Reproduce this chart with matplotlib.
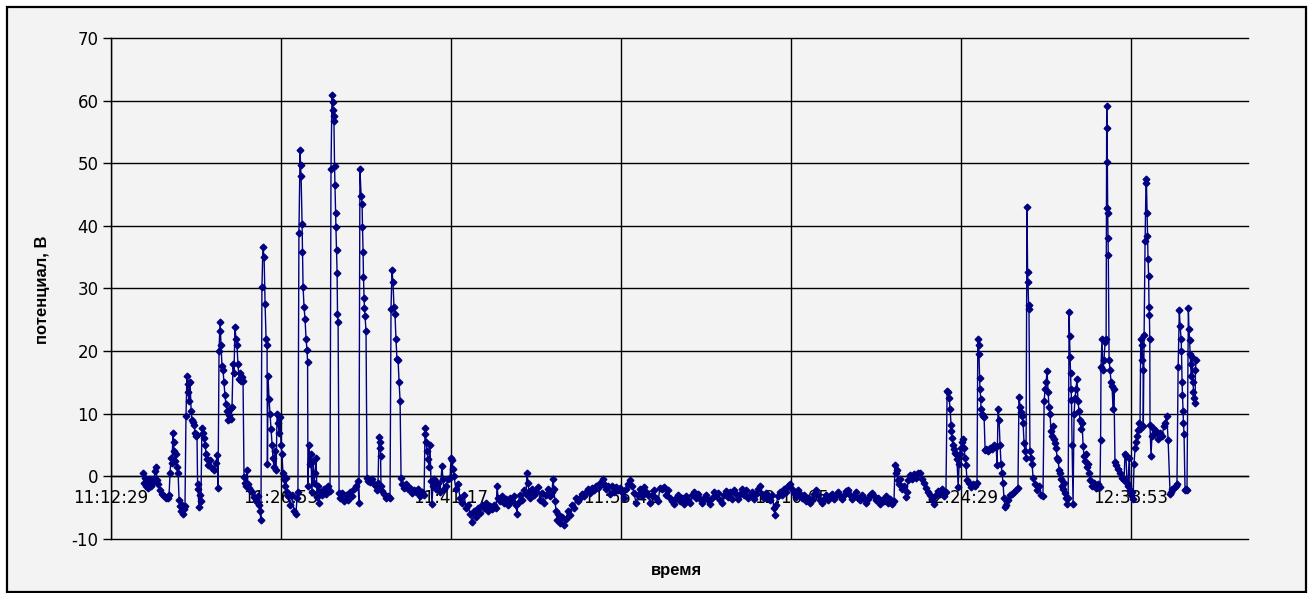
import matplotlib
matplotlib.use("Agg")
import matplotlib.pyplot as plt
from matplotlib.patches import Rectangle

plt.rcParams["axes.unicode_minus"] = False

# seconds after 11:12:29 and measured potential (V)
elapsed_s = [
    163, 168, 173, 178, 183, 188, 193, 198, 203, 208, 219, 224, 229, 234, 239, 249, 259, 269, 280, 290, 295,
    300, 305, 310, 315, 318, 320, 325, 330, 335, 341, 346, 351, 356, 361, 366, 371, 376,
    381, 386, 389, 391, 396, 402, 407, 412, 417, 422, 427, 432, 437, 440, 442, 447, 452, 457,
    462, 468, 473, 478, 483, 488, 493, 503, 513, 523, 534, 539, 544,
    549, 554, 556, 559, 564, 569, 574, 579, 584, 590, 595, 600, 605, 610, 615, 620, 625, 630, 635, 640, 645, 651, 656, 661, 666, 671,
    676, 681, 686, 691, 696, 701, 706, 717, 727, 737, 747, 752, 757, 762,
    767, 772, 778, 783, 788, 793, 795, 798, 803, 808, 813, 818, 823, 828, 833, 839, 844, 849, 854, 859, 864, 869, 874, 879, 884, 889, 894, 900, 910, 920, 930, 940, 945, 950,
    955, 961, 963, 966, 971, 973, 976, 981, 986, 991, 996, 999,
    1001, 1006, 1011, 1016, 1021, 1027, 1032, 1037, 1042, 1047, 1052, 1057, 1062, 1072, 1082, 1093, 1103, 1113,
    1118, 1123, 1126, 1128, 1131, 1133, 1136, 1138, 1141, 1143, 1146, 1149, 1151, 1154,
    1159, 1164, 1174, 1184, 1194, 1204, 1215, 1225, 1235, 1245, 1255, 1260,
    1265, 1271, 1276, 1278, 1281, 1283, 1286, 1288, 1291, 1296,
    1301, 1306, 1316, 1326, 1337, 1347, 1352, 1357, 1362, 1365, 1367, 1370, 1372, 1377, 1387, 1398, 1408, 1418,
    1423, 1428, 1433, 1438, 1443, 1448, 1453, 1459, 1464, 1469,
    1474, 1479, 1489, 1499, 1509, 1520, 1530, 1540, 1550, 1560, 1570, 1581, 1591,
    1596, 1598, 1601, 1606, 1611, 1616, 1621, 1626, 1631, 1636, 1642, 1652, 1662, 1672, 1682, 1687, 1692, 1702, 1713, 1723,
    1728, 1733, 1738, 1743, 1753, 1763, 1774, 1784, 1794, 1804, 1814, 1824, 1835, 1845, 1855, 1865, 1875, 1885, 1896, 1906, 1916, 1926, 1936, 1946, 1957,
    1962, 1967, 1977, 1987, 1997, 2007, 2018, 2028, 2038, 2048, 2058, 2063, 2068, 2079, 2089, 2099, 2109,
    2114, 2119, 2124, 2129, 2140, 2150, 2160, 2170, 2180, 2190, 2201, 2211, 2221, 2231, 2241, 2246, 2251, 2256, 2262, 2267, 2272,
    2282, 2292, 2302, 2312, 2322, 2333, 2343, 2353, 2363, 2373, 2383, 2394, 2404, 2414, 2424, 2434, 2444, 2455, 2465, 2475,
    2485, 2495, 2500, 2505, 2516, 2526, 2536, 2546, 2556, 2566, 2577, 2587, 2597, 2607, 2617, 2627, 2638, 2648, 2658, 2668,
    2678, 2688, 2699, 2709, 2719, 2729, 2739, 2749, 2760, 2770, 2780, 2790, 2800, 2810, 2821, 2831, 2841, 2851, 2861, 2871,
    2882, 2892, 2902, 2912, 2922, 2932, 2943, 2953, 2963, 2973, 2983, 2993,
    3003, 3014, 3024, 3034, 3044, 3054, 3064, 3075, 3085, 3095, 3105, 3115, 3125, 3136, 3146, 3156, 3166, 3176, 3186, 3197,
    3207, 3217, 3227, 3237, 3247, 3258, 3268, 3278, 3288, 3298, 3308, 3319, 3329, 3339, 3349, 3359, 3369, 3374, 3380, 3390,
    3400, 3410, 3420, 3430, 3441, 3451, 3461, 3471, 3481, 3491, 3502, 3512, 3522, 3532, 3542, 3552, 3563, 3573, 3583, 3593,
    3603, 3613, 3623, 3634, 3644, 3654, 3664, 3674, 3684, 3695, 3705, 3715, 3725, 3735, 3745, 3756, 3766, 3776, 3786, 3796,
    3806, 3817, 3827, 3837, 3847, 3857, 3867, 3878, 3888, 3898, 3908, 3918, 3928, 3939, 3949, 3959, 3969, 3979,
    3984, 3989, 3995, 4000, 4005, 4010, 4020, 4030, 4040, 4045, 4050, 4061, 4071, 4081, 4091,
    4101, 4111, 4122, 4132, 4142, 4152, 4162, 4172, 4182, 4193, 4203, 4213, 4223, 4233, 4243,
    4249, 4254, 4259, 4264, 4269, 4271, 4274, 4279, 4284, 4289, 4294, 4299, 4305, 4310, 4315,
    4320, 4325, 4330, 4335, 4340, 4345, 4350, 4360, 4371, 4381, 4391, 4401,
    4405, 4409, 4411, 4414, 4416, 4420, 4421, 4426, 4432, 4437, 4442, 4447, 4457, 4467, 4477, 4487, 4498,
    4503, 4508, 4513, 4518, 4523, 4528, 4533, 4538, 4543, 4548, 4559, 4569, 4579, 4589, 4599, 4609,
    4614, 4620, 4625, 4630, 4635, 4640, 4645, 4650, 4655, 4658, 4660, 4663, 4665, 4670, 4675, 4681, 4686, 4696, 4706, 4716, 4726, 4736,
    4742, 4747, 4752, 4757, 4762, 4767, 4772, 4777, 4782, 4787, 4792, 4797, 4803, 4808, 4813,
    4818, 4823, 4828, 4833, 4838, 4843, 4848, 4853, 4858, 4864,
    4869, 4871, 4874, 4876, 4879, 4881, 4884, 4889, 4894, 4899, 4904, 4909, 4914, 4919, 4925,
    4930, 4935, 4940, 4945, 4950, 4955, 4960, 4965, 4970, 4975, 4985, 4996, 5006, 5016, 5026,
    5029, 5031, 5036, 5041, 5046, 5052, 5057, 5060, 5062, 5063, 5064, 5065, 5067, 5068, 5072,
    5077, 5082, 5087, 5092, 5097, 5102, 5107, 5118, 5128, 5138, 5148, 5153, 5158, 5163, 5168,
    5174, 5179, 5184, 5189, 5194, 5199, 5204, 5209, 5214, 5219, 5224, 5229,
    5233, 5237, 5240, 5245, 5246, 5250, 5255, 5260, 5262, 5265, 5267, 5270, 5273, 5275, 5277,
    5279, 5280, 5285, 5290, 5295, 5301, 5311, 5321, 5331, 5341, 5351, 5356, 5365, 5372, 5382,
    5387, 5392, 5402, 5412, 5417,
    5423, 5429, 5433, 5438, 5440, 5443, 5445, 5448, 5450, 5453, 5458, 5463, 5468,
    5475, 5478, 5481, 5484, 5486, 5489, 5494, 5499, 5501, 5504, 5509, 5511, 5514,
]

potential = [
    0.5, -1.0, -0.3, -1.5, -1.0, -1.9, -1.2, -0.5, -1.6, -1.0, -0.4, 0.8, 1.5, -0.6, -1.3, -2.2, -2.8, -3.2, -3.5, -3.4, -3.0,
    0.5, 3.0, 2.2, 7.0, 5.5, 4.0, 2.5, 3.6, 1.5, 0.6, -3.8, -4.8, -5.5, -4.6, -6.0, -5.2, -4.8,
    9.7, 16.0, 14.8, 13.5, 12.0, 15.0, 10.5, 9.0, 8.6, 8.2, 7.0, 6.5, 6.6, -1.2, -2.0, -4.9, -3.0, -4.0,
    7.7, 7.0, 6.2, 5.0, 3.6, 2.8, 1.8, 2.6, 1.4, 1.0, 2.2, 3.4, -1.9,
    20.0, 24.6, 23.2, 21.0, 17.6, 17.0, 15.0, 13.0, 11.5, 10.5, 9.0, 9.8, 10.8, 9.2, 11.0, 18.0, 16.5, 23.8, 22.0, 21.0, 18.0, 15.5, 16.5, 15.2, 15.8, 15.2,
    -0.1, -1.0, -1.5, 1.0, -1.2, -1.8, -2.2, -2.5, -3.3, -4.0, -3.2, -4.5, -5.5, -7.0,
    30.2, 36.6, 35.0, 27.5, 22.0, 21.0, 2.0, 16.0, 12.4, 10.0, 7.5, 5.0, 3.0, 1.5, 4.0, 1.0, 10.0, 8.5, 7.0, 9.5, 5.0, 3.5, 0.5, -0.5, -1.5, -0.3, -2.5, -3.2, -4.5, -3.0, -5.5, -6.0, -3.5, -2.5,
    38.8, 52.1, 49.7, 47.9, 40.3, 35.9, 30.3, 27.0, 25.2, 22.0, 20.2, 18.2,
    -1.5, 5.0, 2.0, 3.5, -2.5, 2.5, -1.0, 0.5, 3.0, -3.3, -1.5, -4.3, -2.5, -3.0, -2.0, -2.8, -1.5, -2.3,
    49.1, 60.9, 59.8, 58.5, 57.5, 56.7, 49.5, 46.5, 42.0, 39.8, 36.1, 32.4, 26.0, 24.6,
    -2.7, -3.5, -2.6, -4.0, -3.0, -3.8, -2.5, -3.2, -2.0, -1.5, -0.8, -4.2,
    49.1, 44.8, 43.5, 39.8, 35.9, 31.9, 28.5, 26.9, 25.6, 23.2,
    -0.2, -0.7, -0.9, -0.4, -1.2, -1.5, -2.2, -1.0, 6.3, 5.5, 4.5, 3.2, -1.5, -2.3, -2.8, -3.5, -3.2, -3.5,
    26.8, 32.9, 31.0, 27.0, 26.0, 22.0, 18.8, 18.5, 15.0, 12.1,
    -0.2, -1.3, -1.8, -1.3, -2.0, -1.8, -2.7, -2.2, -2.5, -2.0, -3.2, -2.5, -3.0,
    7.7, 6.8, 5.5, 4.0, 2.7, 1.5, 5.0, -0.8, -4.4, -1.5, -0.5, -2.0, -1.0, -2.5, 1.6, -0.5, -2.0, -1.5, -0.5, -0.2,
    3.0, 2.6, 1.2, 0.0, -2.0, -1.2, -3.5, -4.2, -3.0, -5.0, -4.5, -6.0, -7.3, -5.5, -6.5, -5.0, -5.8, -4.6, -5.0, -4.3, -5.5, -4.8, -5.2, -4.5, -5.0,
    -1.6, -3.5, -4.0, -3.2, -4.3, -3.6, -4.5, -3.4, -4.0, -3.2, -4.5, -6.0, -4.2, -3.0, -3.8, -2.2, -2.8,
    0.6, -1.0, -2.5, -3.5, -2.0, -3.0, -2.5, -1.7, -3.8, -2.6, -4.2, -3.0, -2.0, -3.2, -2.5, -0.4, -2.0, -4.0, -5.5, -7.0, -6.0,
    -7.5, -6.5, -7.8, -6.8, -5.5, -6.2, -4.5, -5.0, -3.5, -4.0, -3.5, -2.8, -3.2, -2.5, -2.0, -2.6, -1.8, -2.2, -1.5, -1.8,
    -1.0, -1.3, -0.4, -1.2, -2.0, -1.5, -2.8, -1.5, -2.5, -1.7, -2.2, -1.8, -2.5, -3.5, -2.0, -1.2, -0.6, -1.5, -2.6, -4.3,
    -3.0, -2.0, -3.2, -1.7, -2.5, -3.0, -4.2, -3.0, -2.2, -3.5, -4.0, -1.8, -2.0, -1.7, -3.0, -2.2, -3.4, -4.0, -4.4, -3.5,
    -3.0, -4.0, -3.5, -4.4, -3.2, -3.8, -4.2, -3.0, -2.5, -3.5, -2.8, -3.6,
    -4.2, -3.4, -2.9, -3.8, -4.4, -3.5, -2.5, -3.2, -2.6, -3.8, -4.2, -3.0, -2.4, -3.3, -2.5, -3.6, -2.2, -2.8, -3.6, -2.8,
    -2.0, -3.0, -2.2, -3.5, -3.0, -2.5, -3.6, -2.8, -2.0, -1.6, -2.8, -3.4, -2.6, -3.5, -3.8, -3.0, -5.0, -6.2, -4.5, -3.2,
    -2.5, -3.0, -2.0, -2.5, -1.5, -1.2, -2.0, -2.6, -3.3, -2.2, -2.8, -3.5, -3.0, -4.0, -3.4, -4.2, -3.6, -2.8, -2.2, -3.0,
    -3.8, -4.2, -3.6, -3.0, -3.8, -3.2, -2.8, -3.6, -3.0, -2.5, -3.2, -3.6, -3.0, -2.4, -2.2, -3.0, -3.6, -3.2, -2.5, -3.4,
    -3.8, -3.0, -3.5, -4.2, -3.6, -3.0, -2.6, -3.2, -3.8, -3.5, -4.4, -3.8, -4.0, -3.2, -4.2, -3.6, -4.4, -4.0,
    1.8, 0.5, 1.0, -0.6, -1.2, -0.5, -2.0, -1.5, -3.3, -2.5, -0.6, 0.2, -0.4, 0.4, -0.2,
    0.5, 0.6, -0.4, -1.0, -1.8, -2.5, -3.0, -3.6, -4.4, -3.0, -2.3, -2.8, -2.0, -3.1, -2.5,
    13.7, 13.5, 12.5, 10.8, 8.2, 7.2, 6.1, 5.0, 4.4, 3.8, 3.5, 2.8, -1.7, 2.0, 3.5,
    4.5, 5.5, 6.0, 4.5, 3.0, 1.8, -0.6, -1.0, -1.7, -1.2, -1.5, -1.0,
    22.0, 21.0, 19.5, 15.7, 13.9, 12.3, 10.7, 10.0, 9.6, 9.4, 4.2, 4.3, 4.0, 4.6, 4.4, 5.0, 4.7,
    1.8, 10.7, 9.0, 5.0, 2.0, 0.5, -1.0, -3.5, -4.9, -4.5, -3.7, -3.0, -2.8, -2.5, -2.2, -1.8,
    12.7, 11.0, 10.2, 9.6, 8.5, 5.3, 4.0, 3.0, 43.0, 32.6, 31.0, 27.3, 26.7, 4.0, 3.0, 1.9, -0.3, -1.2, -2.1, -1.5, -3.0, -3.2,
    12.0, 14.0, 15.0, 16.8, 13.5, 11.0, 9.9, 7.2, 6.5, 8.0, 6.0, 5.3, 4.5, 3.0, 2.6,
    1.0, 0.5, -0.5, -1.6, -2.0, -1.0, -2.7, -3.5, -4.4, -3.5,
    26.2, 22.4, 19.0, 16.5, 14.0, 12.2, 5.0, -4.4, 10.0, 12.5, 14.0, 15.5, 12.0, 10.5, 9.0,
    7.5, 8.5, 4.8, 3.2, 2.5, 3.5, 1.5, 2.0, 0.5, -0.6, -1.5, -1.0, -1.8, -1.2, -1.7,
    5.8, 17.5, 22.0, 17.0, 18.5, 21.5, 22.0, 59.2, 55.7, 50.2, 42.8, 42.0, 38.0, 35.4, 18.5,
    17.0, 15.0, 14.5, 10.8, 14.0, 2.3, 1.8, 1.2, 0.5, -0.2, -0.6, 3.6, 3.2, -1.0, -1.6,
    3.0, -2.2, -3.0, -2.5, -3.6, 2.0, 4.5, 5.5, 6.5, 7.4, 8.5, 7.5,
    22.0, 18.5, 21.0, 17.0, 8.0, 22.5, 37.6, 47.5, 46.8, 42.0, 38.4, 34.7, 32.0, 27.0, 25.7,
    22.0, 8.2, 3.2, 6.5, 7.7, 6.8, 7.2, 6.0, 7.0, 6.5, 8.0, 8.5, 9.7, 5.8, -2.8,
    -2.5, -2.0, -1.8, -1.5, -1.3,
    17.5, 26.5, 24.0, 22.0, 20.0, 15.0, 13.0, 10.5, 8.5, 6.8, -2.1, -2.0, -2.1,
    26.9, 23.5, 21.8, 19.6, 18.0, 16.0, 19.0, 15.0, 13.5, 12.5, 11.7, 17.0, 18.5,
]

start_s = 11 * 3600 + 12 * 60 + 29
label_step = 864  # 14 min 24 s between labelled categories
tick_pos = [k * label_step for k in range(7)]
tick_labels = []
for p in tick_pos:
    s = start_s + p
    tick_labels.append("%d:%02d:%02d" % (s // 3600, (s % 3600) // 60, s % 60))

fig = plt.figure(figsize=(13.09, 5.93), dpi=100)
fig.patch.set_facecolor("white")
fig.add_artist(Rectangle((0.0053, 0.0017), 0.9924, 0.9865, transform=fig.transFigure,
                         facecolor="#f3f3f3", edgecolor="black", lw=1.6, zorder=0))

ax = fig.add_axes([0.0848, 0.0911, 0.8686, 0.8449])
ax.set_facecolor("none")
ax.plot(elapsed_s, potential, color="#000080", lw=1.0, marker="D", ms=3.4,
        mfc="#000080", mec="#000080", zorder=3)

ax.set_xlim(0, 5778)
ax.set_ylim(-10, 70)
ax.set_yticks(range(-10, 71, 10))
ax.set_xticks(tick_pos)
ax.set_xticklabels(tick_labels)
ax.grid(True, color="black", lw=1.0)
for gl in ax.get_ygridlines():
    gl.set_clip_on(False)

for side in ["top", "right"]:
    ax.spines[side].set_visible(False)
ax.spines["bottom"].set_position(("data", 0))
ax.spines["left"].set_linewidth(1.0)
ax.spines["bottom"].set_linewidth(1.0)

ax.tick_params(axis="x", length=0, pad=9, labelsize=12)
ax.tick_params(axis="y", direction="out", length=5.5, width=1, pad=3.5, labelsize=12)

fig.text(43 / 1309, 1 - 290 / 593, "потенциал, В", rotation=90, ha="center", va="center",
         fontsize=12, fontweight="bold", family="Liberation Sans")
fig.text(676 / 1309, 1 - 571 / 593, "время", ha="center", va="center",
         fontsize=12, fontweight="bold", family="Liberation Sans")

fig.savefig("out.png", dpi=100)
